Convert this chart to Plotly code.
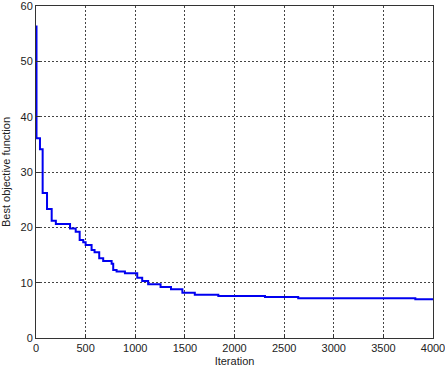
import plotly.graph_objects as go

iterations = [0, 5, 40, 67, 111, 158, 200, 343, 400, 440, 476, 500, 560, 590, 637, 677,
              762, 778, 812, 896, 1020, 1070, 1130, 1255, 1360, 1475, 1600, 1837, 2307,
              2642, 3822, 4000]
best_obj = [56.3, 36.1, 34.1, 26.2, 23.3, 21.2, 20.6, 19.8, 19.2, 17.7, 17.3, 16.8, 15.9,
            15.5, 14.4, 13.9, 13.4, 12.3, 12.0, 11.7, 10.9, 10.3, 9.7, 9.2, 8.8, 8.2, 7.8,
            7.6, 7.4, 7.2, 7.0, 7.0]
x_ticks = [0, 500, 1000, 1500, 2000, 2500, 3000, 3500, 4000]
y_ticks = [0, 10, 20, 30, 40, 50, 60]

fig = go.Figure(go.Scatter(x=iterations, y=best_obj, mode="lines",
                           line=dict(color="#0000f0", width=2, shape="hv")))

axis_common = dict(showline=True, linecolor="#333333", linewidth=1, mirror=True,
                   showgrid=True, gridcolor="#444444", griddash="2px,2px", gridwidth=1,
                   ticks="inside", ticklen=4, tickcolor="#333333", zeroline=False,
                   automargin=False, ticklabeloverflow="allow",
                   tickfont=dict(size=11, color="#222222"))

fig.update_layout(
    width=445, height=369,
    margin=dict(l=36, r=12, t=6, b=31),
    paper_bgcolor="white", plot_bgcolor="white",
    font=dict(family="Liberation Sans, Arial", size=11, color="#222222"),
    showlegend=False,
    xaxis=dict(range=[0, 4000], tickvals=x_ticks,
               title=dict(text="Iteration", standoff=4, font=dict(size=11)), **axis_common),
    yaxis=dict(range=[0, 60], tickvals=y_ticks,
               title=dict(text="Best objective function", standoff=10, font=dict(size=11)),
               **axis_common),
)

fig.write_html("out.html", config={"displayModeBar": False},
               post_script="document.body.style.margin='0';document.body.style.overflow='hidden';")
